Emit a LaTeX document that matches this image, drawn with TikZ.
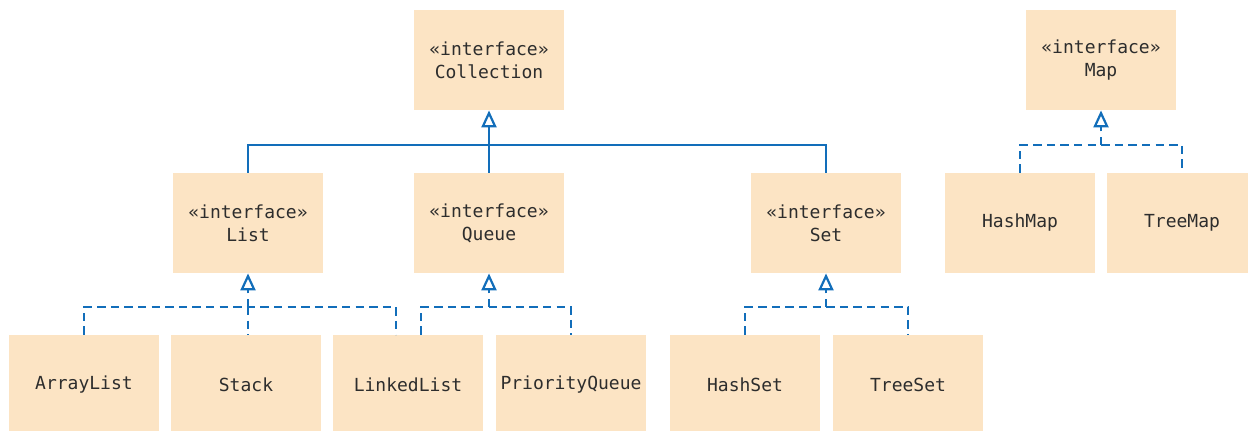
\documentclass[tikz,border=0pt]{standalone}
\usepackage{fontspec}
\setmonofont{DejaVu Sans Mono}
\usetikzlibrary{arrows.meta}
\definecolor{boxfill}{RGB}{252,228,196}
\definecolor{umlblue}{RGB}{18,110,186}
\definecolor{txt}{RGB}{45,45,45}
\begin{document}
\begin{tikzpicture}[x=0.5pt,y=-0.5pt,
  cls/.style={fill=boxfill,draw=none,minimum width=75pt,minimum height=50pt,inner sep=0pt,
    align=center,text=txt,font=\fontsize{9pt}{11.5pt}\selectfont\ttfamily},
  link/.style={draw=umlblue,line width=1.1pt},
  impl/.style={link,dash pattern=on 4.2pt off 2.6pt},
  gen/.style={-{Triangle[open,length=8.5pt,width=7.5pt,line width=1.1pt]}}]
\useasboundingbox (0,0) rectangle (1248,431);
% interfaces
\node[cls] (Collection) at (489,60) {«interface»\\Collection};
\node[cls] (Map) at (1101,60) {«interface»\\Map};
\node[cls] (List) at (248,223) {«interface»\\List};
\node[cls] (Queue) at (489,223) {«interface»\\Queue};
\node[cls] (Set) at (826,223) {«interface»\\Set};
\node[cls] (HashMap) at (1020,223) {HashMap};
\node[cls] (TreeMap) at (1182,223) {TreeMap};
% classes
\node[cls] (ArrayList) at (84,385) {ArrayList};
\node[cls] (Stack) at (246,385) {Stack};
\node[cls] (LinkedList) at (408,385) {LinkedList};
\node[cls] (PriorityQueue) at (571,385) {PriorityQueue};
\node[cls] (HashSet) at (745,385) {HashSet};
\node[cls] (TreeSet) at (908,385) {TreeSet};
% junctions
\coordinate (jColl) at (489,145);
\coordinate (jMap) at (1101,145);
\coordinate (jList) at (248,307);
\coordinate (jQueue) at (489,307);
\coordinate (jSet) at (826,307);
% Collection hierarchy (solid)
\draw[link] (List.north) |- (jColl) -| (Set.north);
\draw[link,gen] (Queue.north) -- (Collection.south);
% Map
\draw[impl] (HashMap.north) |- (jMap) -| (TreeMap.north);
\draw[impl,gen] (jMap) -- (Map.south);
% List
\draw[impl] (ArrayList.north) |- (jList) -| ([xshift=-6pt]LinkedList.north);
\draw[impl] (jList) -- (Stack.north -| jList);
\draw[impl,gen] (jList) -- (List.south);
% Queue
\draw[impl] ([xshift=6.5pt]LinkedList.north) |- (jQueue) -| (PriorityQueue.north);
\draw[impl,gen] (jQueue) -- (Queue.south);
% Set
\draw[impl] (HashSet.north) |- (jSet) -| (TreeSet.north);
\draw[impl,gen] (jSet) -- (Set.south);
\end{tikzpicture}
\end{document}
